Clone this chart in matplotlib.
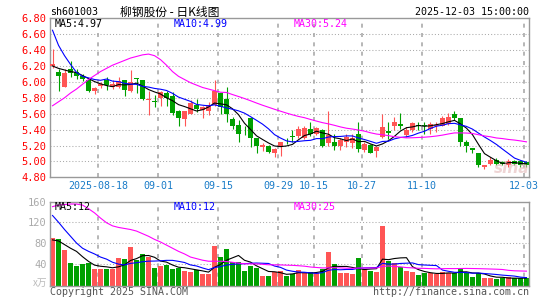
import numpy as np
import pandas as pd
import matplotlib
matplotlib.use("Agg")
import matplotlib.pyplot as plt

# daily candles, 80 trading days ending 2025-12-03
opens = [6.20, 6.12, 5.94, 6.16, 6.12, 6.07, 6.03, 5.89, 5.95, 6.02,
         5.93, 5.93, 6.02, 5.88, 6.05, 6.03, 5.77, 5.76, 5.80, 5.86,
         5.82, 5.63, 5.53, 5.60, 5.71, 5.65, 5.63, 5.71, 5.86, 5.79,
         5.53, 5.46, 5.35, 5.55, 5.30, 5.18, 5.20, 5.11, 5.18, 5.25,
         5.32, 5.32, 5.29, 5.41, 5.35, 5.39, 5.23, 5.25, 5.20, 5.25,
         5.23, 5.35, 5.14, 5.21, 5.13, 5.31, 5.38, 5.45, 5.47, 5.33,
         5.39, 5.46, 5.46, 5.41, 5.44, 5.45, 5.47, 5.59, 5.54, 5.25,
         5.17, 5.11, 4.93, 4.97, 5.02, 4.99, 4.95, 5.00, 5.00, 4.99]
highs = [6.41, 6.16, 6.16, 6.26, 6.16, 6.10, 6.04, 5.93, 6.00, 6.06,
         6.02, 6.06, 6.03, 6.15, 6.05, 6.03, 5.89, 5.83, 5.88, 5.89,
         5.87, 5.65, 5.64, 5.77, 5.79, 5.70, 5.75, 6.02, 5.86, 5.94,
         5.56, 5.52, 5.44, 5.55, 5.30, 5.23, 5.21, 5.17, 5.25, 5.29,
         5.39, 5.45, 5.45, 5.49, 5.43, 5.41, 5.64, 5.34, 5.29, 5.34,
         5.35, 5.49, 5.25, 5.22, 5.20, 5.60, 5.49, 5.56, 5.61, 5.43,
         5.50, 5.50, 5.50, 5.49, 5.49, 5.57, 5.61, 5.63, 5.54, 5.27,
         5.17, 5.11, 4.96, 5.05, 5.04, 5.01, 5.03, 5.02, 5.02, 5.01]
lows = [6.17, 5.88, 5.93, 6.06, 6.04, 6.01, 5.87, 5.85, 5.92, 5.90,
        5.91, 5.92, 5.82, 5.87, 5.86, 5.77, 5.58, 5.68, 5.70, 5.70,
        5.58, 5.44, 5.45, 5.59, 5.62, 5.54, 5.58, 5.70, 5.59, 5.49,
        5.41, 5.25, 5.33, 5.18, 5.11, 5.13, 5.10, 5.06, 5.07, 5.22,
        5.25, 5.29, 5.28, 5.32, 5.33, 5.18, 5.20, 5.14, 5.14, 5.18,
        5.17, 5.12, 5.12, 5.10, 5.06, 5.29, 5.28, 5.39, 5.41, 5.31,
        5.37, 5.39, 5.35, 5.35, 5.37, 5.44, 5.46, 5.52, 5.20, 5.12,
        5.10, 4.93, 4.90, 4.96, 4.95, 4.95, 4.93, 4.95, 4.93, 4.93]
closes = [6.23, 6.07, 6.11, 6.11, 6.07, 6.04, 5.88, 5.92, 5.97, 5.96,
          5.97, 6.01, 5.90, 6.00, 6.04, 5.79, 5.79, 5.75, 5.87, 5.80,
          5.61, 5.54, 5.63, 5.73, 5.66, 5.69, 5.71, 5.88, 5.68, 5.60,
          5.44, 5.34, 5.34, 5.29, 5.20, 5.21, 5.12, 5.15, 5.25, 5.24,
          5.31, 5.41, 5.42, 5.34, 5.42, 5.20, 5.33, 5.20, 5.27, 5.31,
          5.30, 5.16, 5.22, 5.11, 5.18, 5.43, 5.36, 5.50, 5.44, 5.39,
          5.48, 5.45, 5.45, 5.47, 5.46, 5.55, 5.56, 5.54, 5.25, 5.19,
          5.14, 4.95, 4.96, 5.02, 4.97, 4.97, 5.00, 4.97, 4.96, 4.95]
volumes = [90.5, 87.5, 66.5, 41.5, 36, 39.5, 42.5, 30.5, 30.5, 30.5,
           30.5, 51.5, 49.5, 72.5, 48.5, 58.5, 53.5, 32.5, 36, 38.5,
           30.5, 32.5, 27.5, 25.5, 28.5, 20.5, 20.5, 74, 53.5, 68.5,
           43.5, 43.5, 27.5, 36, 32.5, 16.5, 16.5, 24.5, 27.5, 16.5,
           20.5, 28.5, 23.5, 24.5, 22, 30.5, 62.5, 39.5, 22.5, 22.5,
           20.5, 51.5, 30.5, 27.5, 25.5, 112.5, 46.5, 41.5, 33.5, 27.5,
           25.5, 18.5, 23.5, 22, 20.5, 25.5, 23.5, 22, 32.5, 22,
           14.5, 22, 13.5, 13.5, 10.5, 13.5, 14.5, 12.5, 12.5, 12.5]

# moving averages at the left edge depend on days before the window
ma5_head = [6.20, 6.17, 6.15, 6.13]
ma10_head = [6.65, 6.46, 6.33, 6.22, 6.12, 6.07, 6.05, 6.03, 6.02]
ma30_head = [5.70, 5.75, 5.80, 5.86, 5.91, 5.97, 6.03, 6.08, 6.13, 6.17,
             6.21, 6.24, 6.27, 6.30, 6.32, 6.34, 6.35, 6.33, 6.28, 6.21,
             6.13, 6.07, 6.03, 5.99, 5.96, 5.93, 5.91, 5.89, 5.87]
vma5_head = [86.5, 84.5, 77.5, 70.5]
vma10_head = [133.5, 120.5, 106.5, 93.5, 80.5, 70.5, 64.5, 59.5, 53.5]
vma30_head = [150.5, 153.5, 154.5, 155.5, 155.5, 153.5, 146.5, 138.5, 128.5, 119.5,
              113.5, 110.5, 108.5, 106.5, 103.5, 98.5, 93.5, 87.5, 82.5, 76.5,
              70.5, 64.5, 59.5, 53.5, 50.5, 47.5, 45.5, 45.5, 45.5]

date_idx = [8, 18, 28, 38, 44, 52, 62, 79]
date_lbl = ['2025-08-18', '09-01', '09-15', '09-29', '10-15', '10-27', '11-10', '12-03']

RED = '#ff5555'
GREEN = '#00a000'
GRID = '#aaaaaa'
MONO = 'DejaVu Sans Mono'
CJK = ['Noto Sans CJK SC', 'DejaVu Sans']


def moving(values, n, head):
    m = pd.Series(values).rolling(n).mean().to_numpy()
    m[:len(head)] = head
    return m


o = np.array(opens)
c = np.array(closes)
x = np.arange(len(c))
up = c >= o
colors = np.where(up, RED, GREEN)

W, H = 545, 300
fig = plt.figure(figsize=(W / 100, H / 100), dpi=100)


def box(l, t, r, b):
    return [l / W, 1 - b / H, (r - l) / W, (b - t) / H]


def px(xp, yp):
    return xp / W, 1 - yp / H


ax = fig.add_axes(box(50, 18.3, 529, 177.3))
axv = fig.add_axes(box(50, 201.7, 529, 285.7))

for a in (ax, axv):
    a.set_xlim(-0.42, 79.42)
    for s in a.spines.values():
        s.set_color('#999999')
        s.set_linewidth(1.0)
    for d in date_idx:
        a.axvline(d - 0.42, color=GRID, lw=1.2, ls=(0, (2.4, 3.2)), zorder=0)

# price panel
ax.set_ylim(4.8, 6.8)
for v in np.arange(5.0, 6.7, 0.2):
    ax.axhline(v, color=GRID, lw=0.75, ls=(0, (1, 2)), zorder=0)
ax.vlines(x, lows, highs, colors=colors, lw=0.8, zorder=2)
ax.bar(x, np.maximum(np.abs(c - o), 0.01), bottom=np.minimum(c, o),
       width=0.83, color=colors, lw=0, zorder=3)
ax.plot(x, moving(closes, 5, ma5_head), color='black', lw=0.8, zorder=4)
ax.plot(x, moving(closes, 10, ma10_head), color='#0000ff', lw=0.8, zorder=4)
ax.plot(x, moving(closes, 30, ma30_head), color='#ff00ff', lw=0.8, zorder=4)

yt = np.arange(4.8, 6.81, 0.2)
ax.set_yticks(yt)
ax.set_yticklabels([f'{v:.2f}' for v in yt], color='#ff0000', fontsize=7.5, family=MONO)
ax.set_xticks([d - 0.42 for d in date_idx])
ax.set_xticklabels(date_lbl, color='#1a7cc8', fontsize=7.2, family=MONO)
ax.tick_params(length=0, pad=2.5)

# volume panel
vlo = -1.6
axv.set_ylim(vlo, 160)
for v in (40, 80, 120):
    axv.axhline(v, color=GRID, lw=0.75, ls=(0, (1, 2)), zorder=0)
axv.bar(x, np.array(volumes) - vlo, bottom=vlo, width=0.83, color=colors, lw=0, zorder=2)
axv.plot(x, moving(volumes, 5, vma5_head), color='black', lw=0.8, zorder=4)
axv.plot(x, moving(volumes, 10, vma10_head), color='#0000ff', lw=0.8, zorder=4)
axv.plot(x, moving(volumes, 30, vma30_head), color='#ff00ff', lw=0.8, zorder=4)
axv.set_yticks([40, 80, 120, 160])
axv.set_yticklabels(['40', '80', '120', '160'], color='#aaaaaa', fontsize=7.5, family=MONO)
axv.set_xticks([])
axv.tick_params(length=0, pad=2.5)

# texts
fig.text(*px(50, 12), 'sh601003', fontsize=7.2, family=MONO, va='center', ha='left')
fig.text(*px(120, 12), '柳钢股份 - 日K线图', fontsize=8.5, family=CJK, va='center', ha='left')
fig.text(*px(529, 12), '2025-12-03 15:00:00', fontsize=7.2, family=MONO, va='center', ha='right')

fig.text(*px(55, 24), 'MA5:4.97', fontsize=7.2, family=MONO, va='center', color='black')
fig.text(*px(174, 24), 'MA10:4.99', fontsize=7.2, family=MONO, va='center', color='#0000ff')
fig.text(*px(294, 24), 'MA30:5.24', fontsize=7.2, family=MONO, va='center', color='#ff00ff')
fig.text(*px(55, 207), 'MA5:12', fontsize=7.2, family=MONO, va='center', color='black')
fig.text(*px(174, 207), 'MA10:12', fontsize=7.2, family=MONO, va='center', color='#0000ff')
fig.text(*px(294, 207), 'MA30:25', fontsize=7.2, family=MONO, va='center', color='#ff00ff')

fig.text(*px(47, 283), 'x万', fontsize=7, family=CJK, va='center', ha='right', color='#bbbbbb')
fig.text(*px(50, 292), 'Copyright 2025 SINA.COM', fontsize=7.2, family=MONO,
         va='center', ha='left', color='#555555')
fig.text(*px(529, 292), 'http://finance.sina.com.cn', fontsize=7.2, family=MONO,
         va='center', ha='right', color='#555555')
fig.text(*px(512, 168), 'sina', fontsize=11, style='italic', weight='bold',
         va='center', ha='center', color='#e3b8b8', alpha=0.6)

fig.savefig('out.png', dpi=100)
